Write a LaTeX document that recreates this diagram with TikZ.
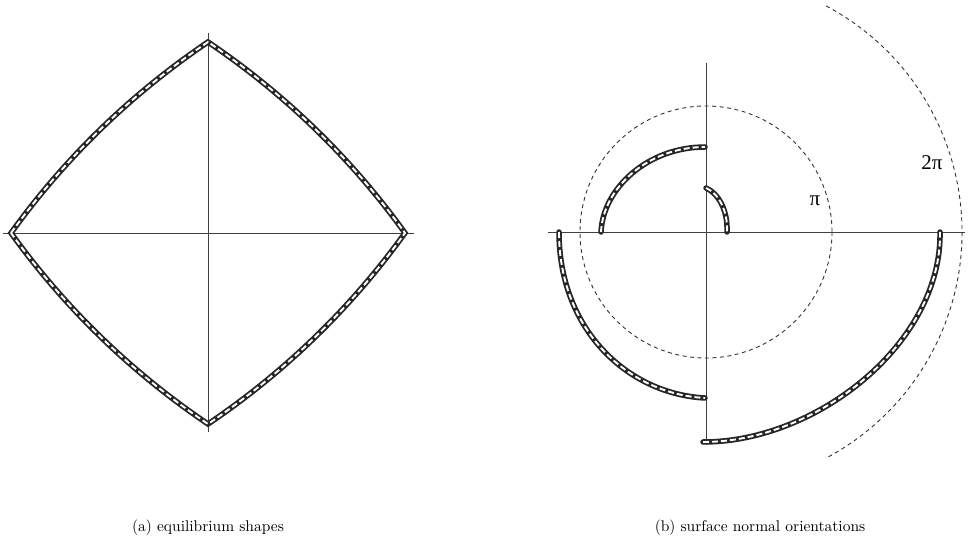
\documentclass[tikz,border=0pt]{standalone}
\usepackage{fontspec}
\newfontfamily\greekfont{Liberation Serif}
\usetikzlibrary{positioning}

\begin{document}
\begin{tikzpicture}[x=1pt, y=-1pt]
    % Define styles
    \tikzstyle{axis} = [draw=black!75, line width=0.8pt]
    \tikzstyle{ring} = [draw=black!80, line width=0.9pt, dash pattern=on 4pt off 3.5pt]
    \tikzstyle{front} = [draw=black!85, line width=5.5pt, line cap=round, line join=miter, postaction={draw=white, line width=1.9pt, line cap=butt, dash pattern=on 6pt off 3pt}]
    \tikzstyle{caption} = [anchor=base, inner sep=0pt, font=\fontsize{10}{12}\selectfont, scale=1.55, transform shape]
    \tikzstyle{anglelbl} = [inner sep=0pt, font=\fontsize{21}{24}\selectfont\greekfont]

    \useasboundingbox (0,0) rectangle (971,553);

    % (a) axes
    \coordinate (aW) at (3,233);
    \coordinate (aE) at (414,233);
    \coordinate (aN) at (208,33);
    \coordinate (aS) at (208,432);
    \draw [axis] (aW) -- (aE);
    \draw [axis] (aN) -- (aS);

    % (a) shape
    \coordinate (left) at (11,233);
    \coordinate (top) at (208,42);
    \coordinate (right) at (405,233);
    \coordinate (bottom) at (208,424);
    \draw [front] (left) .. controls (65,158) and (131,94) .. (top)
        .. controls (285,94) and (351,158) .. (right)
        .. controls (351,308) and (285,372) .. (bottom)
        .. controls (131,372) and (65,308) .. cycle;

    % (b) axes
    \coordinate (o) at (706,232);
    \coordinate (bW) at (548,232);
    \coordinate (bE) at (965,232);
    \coordinate (bN) at (706,63);
    \coordinate (bS) at (706,445);
    \draw [axis] (bW) -- (bE);
    \draw [axis] (bN) -- (bS);

    % (b) reference circles
    \draw [ring] (o) circle [radius=126];
    \draw [ring] (o) ++(-62:256) arc [start angle=-62, end angle=62, radius=256];
    \node (pi) [anglelbl] at (815,201) {π};
    \node (twopi) [anglelbl] at (932,163) {2π};

    % (b) orientations
    \draw [front] (706,188) .. controls (718,193) and (728,210) .. (727,232);
    \draw [front] (601,232) .. controls (603,188) and (648,147) .. (705,147);
    \draw [front] (559,232) .. controls (559,330) and (628,394) .. (705,398);
    \draw [front] (703,442) .. controls (818,442) and (942,342) .. (940,232);

    % Captions
    \node (capa) [caption] at (208,531) {(a) equilibrium shapes};
    \node (capb) [caption] at (760,531) {(b) surface normal orientations};
\end{tikzpicture}
\end{document}
